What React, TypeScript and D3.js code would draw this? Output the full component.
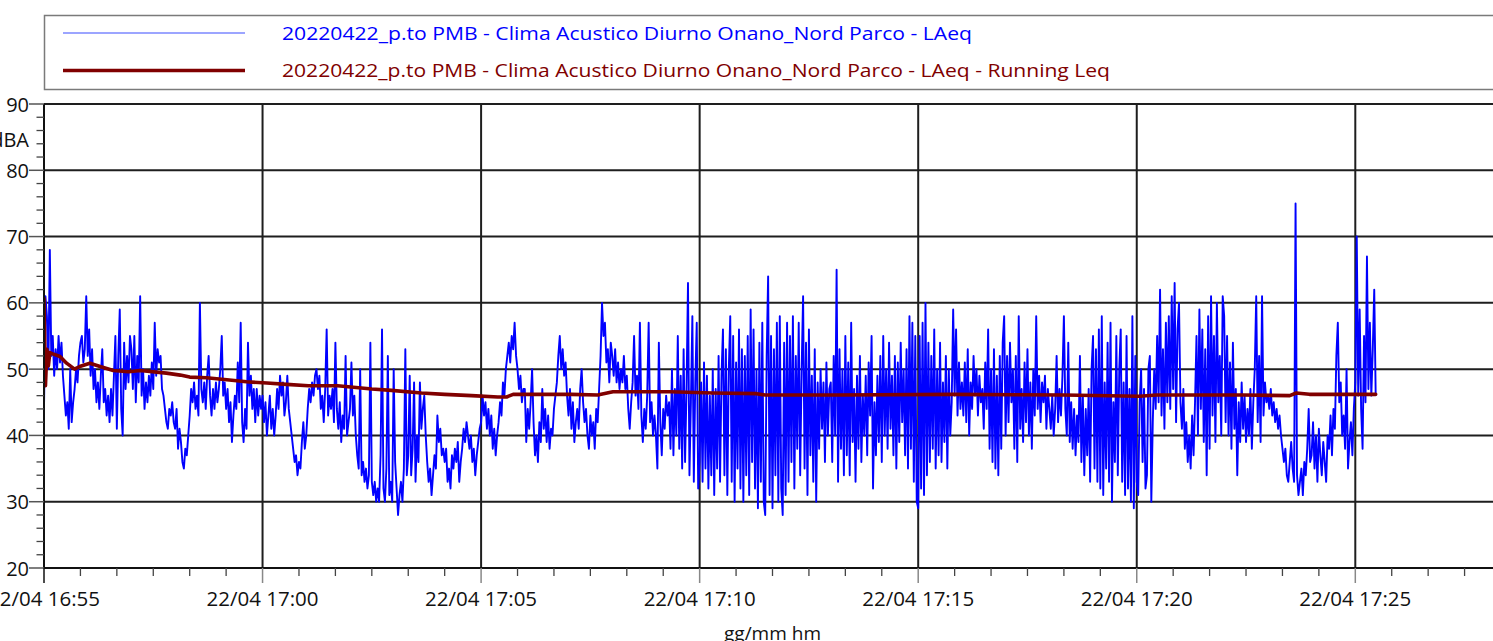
import React from "react";
import * as d3 from "d3";

// LAeq samples, one row per minute starting 22/04/2022 16:55:00, 2 s apart (dBA)
const LAEQ_STEP_S = 2;
const laeqByMinute: number[][] = [
  [44, 61, 58, 50, 68, 52, 55, 49, 53, 50, 55, 51, 54, 49, 46, 43, 45, 41, 50, 42, 45, 47, 50, 48, 52, 54, 55, 51, 53, 61], // 16:55
  [52, 56, 49, 53, 47, 50, 45, 48, 44, 49, 53, 45, 47, 43, 46, 42, 47, 43, 49, 55, 41, 52, 59, 44, 40, 54, 47, 52, 48, 55], // 16:56
  [53, 47, 55, 45, 52, 48, 61, 46, 50, 44, 48, 45, 49, 46, 51, 47, 57, 49, 53, 51, 52, 47, 46, 44, 42, 41, 44, 43, 45, 42], // 16:57
  [41, 44, 38, 41, 39, 36, 35, 38, 37, 40, 43, 47, 45, 48, 44, 46, 43, 60, 47, 45, 48, 44, 49, 52, 46, 43, 47, 44, 48, 45], // 16:58
  [47, 50, 55, 46, 48, 44, 47, 42, 45, 39, 43, 46, 44, 51, 45, 57, 42, 39, 44, 41, 54, 46, 49, 44, 47, 42, 47, 43, 46, 44], // 16:59
  [46, 42, 45, 40, 43, 46, 41, 44, 40, 43, 47, 44, 49, 46, 48, 43, 45, 49, 44, 42, 40, 38, 36, 37, 34, 36, 35, 39, 42, 38], // 17:00
  [40, 44, 47, 45, 48, 46, 49, 50, 47, 49, 44, 46, 42, 47, 56, 43, 46, 44, 47, 42, 54, 44, 41, 45, 39, 43, 41, 52, 40, 42], // 17:01
  [44, 51, 43, 46, 40, 37, 35, 50, 34, 36, 33, 35, 32, 34, 54, 33, 31, 33, 30, 32, 30, 37, 56, 32, 30, 35, 52, 31, 33, 30], // 17:02
  [50, 36, 32, 28, 31, 33, 30, 35, 53, 34, 37, 49, 34, 38, 48, 33, 40, 36, 48, 41, 44, 46, 40, 36, 33, 35, 31, 34, 37, 35], // 17:03
  [43, 39, 41, 37, 38, 36, 38, 33, 35, 32, 37, 35, 38, 36, 39, 33, 36, 38, 41, 39, 42, 40, 38, 40, 36, 38, 34, 37, 39, 41], // 17:04
  [42, 46, 43, 45, 41, 44, 40, 43, 38, 41, 37, 40, 42, 45, 43, 48, 46, 50, 52, 54, 51, 55, 53, 57, 52, 50, 47, 49, 45, 47], // 17:05
  [47, 39, 44, 41, 45, 50, 42, 37, 40, 36, 42, 39, 47, 41, 44, 39, 43, 38, 41, 40, 44, 46, 48, 52, 55, 50, 53, 49, 51, 46], // 17:06
  [43, 47, 41, 45, 39, 42, 44, 41, 47, 50, 45, 42, 44, 40, 38, 43, 40, 42, 38, 44, 42, 47, 52, 60, 55, 57, 51, 53, 48, 54], // 17:07
  [52, 49, 53, 48, 51, 47, 50, 48, 52, 47, 49, 44, 41, 45, 48, 55, 46, 49, 44, 57, 43, 39, 44, 41, 46, 57, 42, 45, 40, 43], // 17:08
  [40, 35, 54, 42, 37, 44, 41, 46, 43, 45, 38, 50, 37, 47, 40, 55, 38, 49, 35, 53, 36, 47, 63, 34, 45, 58, 33, 48, 57, 32], // 17:09
  [36, 48, 33, 51, 35, 49, 32, 46, 34, 50, 31, 47, 35, 52, 33, 49, 56, 34, 53, 31, 50, 58, 33, 55, 30, 51, 35, 56, 32, 53], // 17:10
  [30, 52, 34, 55, 31, 59, 36, 56, 32, 50, 29, 54, 33, 57, 30, 28, 52, 64, 31, 55, 29, 53, 34, 57, 30, 58, 32, 28, 54, 31], // 17:11
  [57, 33, 55, 36, 58, 32, 52, 38, 57, 34, 50, 61, 35, 54, 31, 56, 37, 49, 33, 53, 30, 48, 38, 50, 41, 48, 36, 51, 40, 47], // 17:12
  [48, 36, 52, 40, 65, 33, 53, 38, 50, 34, 55, 37, 51, 34, 57, 39, 47, 33, 49, 38, 52, 36, 46, 40, 49, 37, 51, 43, 55, 32], // 17:13
  [45, 37, 49, 39, 52, 36, 55, 40, 50, 38, 54, 41, 49, 37, 52, 35, 51, 39, 54, 42, 50, 37, 53, 35, 58, 38, 57, 33, 55, 30], // 17:14
  [29, 55, 32, 57, 31, 60, 34, 54, 36, 52, 38, 56, 35, 50, 37, 54, 36, 48, 39, 52, 35, 50, 40, 45, 59, 46, 56, 43, 51, 44], // 17:15
  [48, 43, 51, 42, 53, 40, 48, 44, 52, 46, 50, 43, 49, 45, 47, 41, 51, 44, 56, 38, 50, 36, 53, 35, 49, 34, 52, 38, 54, 58], // 17:16
  [40, 52, 42, 54, 45, 50, 38, 52, 36, 58, 41, 47, 39, 51, 42, 53, 40, 48, 38, 50, 43, 58, 44, 49, 42, 48, 45, 49, 41, 47], // 17:17
  [44, 41, 46, 40, 44, 52, 42, 47, 43, 49, 58, 44, 40, 54, 39, 45, 38, 44, 37, 43, 39, 52, 36, 46, 34, 44, 37, 47, 33, 50], // 17:18
  [55, 35, 53, 33, 56, 32, 58, 31, 48, 35, 54, 33, 57, 30, 45, 36, 55, 34, 50, 56, 33, 48, 31, 55, 32, 47, 30, 58, 29, 52], // 17:19
  [33, 31, 45, 50, 36, 47, 32, 34, 50, 52, 30, 42, 50, 44, 55, 45, 62, 43, 53, 41, 57, 45, 58, 44, 61, 47, 63, 42, 56, 60], // 17:20
  [45, 41, 47, 38, 42, 36, 40, 35, 43, 37, 45, 55, 40, 59, 44, 56, 39, 53, 34, 58, 38, 61, 43, 55, 39, 60, 45, 52, 40, 61], // 17:21
  [58, 42, 55, 40, 51, 38, 54, 41, 47, 34, 45, 39, 48, 41, 46, 39, 44, 40, 47, 38, 45, 50, 61, 42, 52, 39, 61, 43, 48, 45], // 17:22
  [46, 44, 47, 43, 45, 42, 44, 41, 43, 40, 38, 36, 38, 34, 33, 36, 39, 35, 33, 75, 34, 31, 33, 35, 31, 36, 34, 38, 44, 36], // 17:23
  [37, 42, 35, 40, 33, 41, 37, 34, 39, 36, 33, 40, 38, 43, 37, 44, 41, 52, 57, 45, 48, 40, 43, 38, 50, 35, 39, 42, 37, 44], // 17:24
  [48, 70, 46, 59, 44, 38, 55, 45, 67, 47, 57, 46, 53, 62, 46], // 17:25
];

// Running Leq: seconds after 16:55:00 and level (dBA)
const leqSeconds = [0, 2, 4, 6, 8, 12, 22, 31, 42, 49, 63, 77, 95, 116, 132, 168, 187, 200, 223, 251, 278, 306, 333, 363, 403, 450, 477, 518, 550, 587, 623, 635, 644, 678, 724, 760, 781, 859, 918, 978, 990, 1088, 1248, 1400, 1504, 1527, 1646, 1710, 1719, 1737, 1828];
const leqValues = [60.7, 47.5, 53.0, 50.5, 52.5, 52.3, 51.9, 50.9, 50.0, 50.4, 50.9, 50.4, 49.8, 49.6, 49.8, 49.4, 49.1, 48.8, 48.7, 48.4, 48.1, 47.9, 47.7, 47.5, 47.5, 47.0, 46.8, 46.4, 46.2, 46.0, 45.8, 45.8, 46.2, 46.2, 46.2, 46.1, 46.6, 46.6, 46.4, 46.3, 46.1, 46.1, 46.2, 46.1, 45.9, 46.1, 46.1, 46.0, 46.4, 46.2, 46.2];

const yMajorTicks = [20, 30, 40, 50, 60, 70, 80, 90];
const legendLabels = [
  "20220422_p.to PMB - Clima Acustico Diurno Onano_Nord Parco - LAeq",
  "20220422_p.to PMB - Clima Acustico Diurno Onano_Nord Parco - LAeq - Running Leq",
];
const legendColors = ["#0000ff", "#800000"];
const yUnit = "dBA";
const xTitle = "gg/mm hm";

const WIDTH = 1493;
const HEIGHT = 641;
const FONT = "'Open Sans', 'Noto Sans', sans-serif";

const start = new Date(2022, 3, 22, 16, 55, 0);
const end = new Date(2022, 3, 22, 17, 28, 20);
const at = (s: number) => new Date(start.getTime() + s * 1000);

const plot = { left: 44, right: 1501, top: 104, bottom: 568 };

export default function App() {
  const x = d3.scaleTime().domain([start, end]).range([plot.left, plot.right]);
  const y = d3.scaleLinear().domain([20, 90]).range([plot.bottom, plot.top]);

  const laeq = laeqByMinute.flat().map((v, i) => ({ t: at(i * LAEQ_STEP_S), v }));
  const leq = leqSeconds.map((s, i) => ({ t: at(s), v: leqValues[i] }));

  const line = d3
    .line<{ t: Date; v: number }>()
    .x((d) => x(d.t))
    .y((d) => y(d.v));

  const xMajor = d3.timeMinute.every(5)!.range(start, at(2001));
  const xMinor = d3.range(0, 2001, 50).map(at).filter((d) => (d.getTime() - start.getTime()) % 300000 !== 0);
  const yMinor = d3.range(20, 91, 2).filter((v) => v % 10 !== 0);
  const fmt = d3.timeFormat("%d/%m %H:%M");

  return (
    <svg
      width={WIDTH}
      height={HEIGHT}
      style={{ position: "absolute", left: 0, top: 0, display: "block", background: "#fff" }}
    >
      <defs>
        <clipPath id="plot-clip">
          <rect x={plot.left} y={plot.top} width={plot.right - plot.left} height={plot.bottom - plot.top} />
        </clipPath>
      </defs>

      {/* legend */}
      <rect x={44.5} y={15.5} width={1500} height={74} fill="none" stroke="#7a7a7a" strokeWidth={1.5} />
      {legendLabels.map((label, i) => {
        const ly = i === 0 ? 33 : 70.5;
        return (
          <g key={label}>
            <line
              x1={63}
              x2={245}
              y1={ly}
              y2={ly}
              stroke={i === 0 ? "#3a4cff" : legendColors[i]}
              strokeWidth={i === 0 ? 1.2 : 3.5}
            />
            <text
              x={282}
              y={i === 0 ? 39.5 : 77}
              fill={legendColors[i]}
              fontFamily={FONT}
              fontSize={19}
              textLength={i === 0 ? 690 : 828}
              lengthAdjust="spacingAndGlyphs"
            >
              {label}
            </text>
          </g>
        );
      })}

      {/* grid */}
      {yMajorTicks.map((v) => (
        <line key={"gy" + v} x1={plot.left} x2={plot.right} y1={y(v)} y2={y(v)} stroke="#1e1e1e" strokeWidth={2} />
      ))}
      {xMajor.map((d) => (
        <line key={"gx" + d.getTime()} x1={x(d)} x2={x(d)} y1={plot.top} y2={plot.bottom} stroke="#1e1e1e" strokeWidth={2} />
      ))}

      {/* series */}
      <g clipPath="url(#plot-clip)">
        <path d={line(laeq) ?? ""} fill="none" stroke="#0000ff" strokeWidth={1.9} strokeLinejoin="round" />
        <path d={line(leq) ?? ""} fill="none" stroke="#800000" strokeWidth={3.6} strokeLinejoin="round" strokeLinecap="round" />
      </g>

      {/* y axis */}
      <line x1={plot.left} x2={plot.left} y1={plot.top} y2={plot.bottom} stroke="#111" strokeWidth={2} />
      {yMajorTicks.map((v) => (
        <g key={"ty" + v}>
          <line x1={29} x2={plot.left} y1={y(v)} y2={y(v)} stroke="#555" strokeWidth={1.5} />
          <text x={29} y={y(v) + 7.5} textAnchor="end" fontFamily={FONT} fontSize={20} fill="#111">
            {v}
          </text>
        </g>
      ))}
      {yMinor.map((v) => (
        <line key={"my" + v} x1={36.5} x2={plot.left} y1={y(v)} y2={y(v)} stroke="#444" strokeWidth={1.3} />
      ))}
      <text x={29} y={147} textAnchor="end" fontFamily={FONT} fontSize={20} fill="#111">
        {yUnit}
      </text>

      {/* x axis */}
      <line x1={plot.left} x2={plot.right} y1={plot.bottom} y2={plot.bottom} stroke="#111" strokeWidth={2} />
      {xMinor.map((d) => (
        <line key={"mx" + d.getTime()} x1={x(d)} x2={x(d)} y1={plot.bottom} y2={plot.bottom + 8} stroke="#444" strokeWidth={1.3} />
      ))}
      {xMajor.map((d, i) => (
        <g key={"tx" + d.getTime()}>
          <line
            x1={x(d)}
            x2={x(d)}
            y1={plot.bottom}
            y2={plot.bottom + 15}
            stroke={i === 0 ? "#111" : "#888"}
            strokeWidth={1.5}
          />
          <text x={x(d)} y={606} textAnchor="middle" fontFamily={FONT} fontSize={20.5} fill="#111">
            {fmt(d)}
          </text>
        </g>
      ))}
      <text x={(plot.left + plot.right) / 2} y={640} textAnchor="middle" fontFamily={FONT} fontSize={19} fill="#111">
        {xTitle}
      </text>
    </svg>
  );
}
